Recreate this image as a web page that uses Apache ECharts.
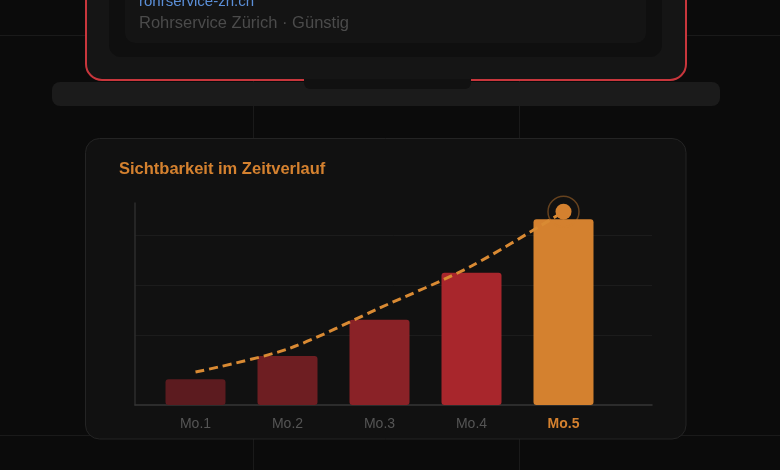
<!DOCTYPE html>
<html>
<head>
<meta charset="utf-8">
<script src="https://cdn.jsdelivr.net/npm/echarts@6/dist/echarts.min.js"></script>
<style>
  html, body { margin: 0; padding: 0; background: #0b0b0b; }
  #chart { width: 780px; height: 470px; }
</style>
</head>
<body>
<div id="chart"></div>
<script>
// values (0-100 visibility scale)
const categories = ['Mo.1', 'Mo.2', 'Mo.3', 'Mo.4', 'Mo.5'];
const visibility = [12.7, 24.3, 42.2, 65.5, 92];
const trend = [16.3, 27.7, 48, 68.8, 95.7];

const barColors = ['#5c1b1f', '#6e1e22', '#8a2227', '#a8262c', '#d4812f'];
const orange = '#d4812f';
const font = "'Liberation Sans', Arial, Helvetica, sans-serif";
const last = categories.length - 1;

const chart = echarts.init(document.getElementById('chart'), null, { renderer: 'canvas' });

// laptop mockup + card background, drawn behind the chart
const decor = [
  // background grid
  { type: 'line', shape: { x1: 0, y1: 35.5, x2: 780, y2: 35.5 }, style: { stroke: '#1a1a1a', lineWidth: 1 } },
  { type: 'line', shape: { x1: 0, y1: 435.5, x2: 780, y2: 435.5 }, style: { stroke: '#1a1a1a', lineWidth: 1 } },
  { type: 'line', shape: { x1: 253.5, y1: 0, x2: 253.5, y2: 470 }, style: { stroke: '#1a1a1a', lineWidth: 1 } },
  { type: 'line', shape: { x1: 519.5, y1: 0, x2: 519.5, y2: 470 }, style: { stroke: '#1a1a1a', lineWidth: 1 } },
  // laptop
  { type: 'rect', shape: { x: 52, y: 82, width: 668, height: 24, r: 8 }, style: { fill: '#1b1b1b' } },
  { type: 'rect', shape: { x: 86, y: -30, width: 600, height: 110, r: 16 }, style: { fill: '#151515', stroke: '#c8363c', lineWidth: 2 } },
  { type: 'rect', shape: { x: 304, y: 79, width: 167, height: 10, r: [0, 0, 6, 6] }, style: { fill: '#111111' } },
  { type: 'rect', shape: { x: 109, y: -30, width: 553, height: 87, r: 12 }, style: { fill: '#0f0f0f' } },
  { type: 'rect', shape: { x: 125, y: -30, width: 521, height: 73, r: 10 }, style: { fill: '#141414' } },
  { type: 'text', x: 139, y: 2, style: { text: 'rohrservice-zh.ch', fill: '#5b8fd8', font: '15px ' + font, verticalAlign: 'middle' } },
  { type: 'text', x: 139, y: 23.7, style: { text: 'Rohrservice Zürich · Günstig', fill: '#4b4b4b', font: '16.5px ' + font, verticalAlign: 'middle' } },
  // chart card
  { type: 'rect', shape: { x: 85.5, y: 138.5, width: 600.5, height: 300.5, r: 14 }, style: { fill: '#111111', stroke: '#242424', lineWidth: 1 } },
  { type: 'text', x: 119, y: 169.5, style: { text: 'Sichtbarkeit im Zeitverlauf', fill: orange, font: 'bold 16.5px ' + font, verticalAlign: 'middle' } }
].map(el => Object.assign({ z: -10, silent: true }, el));

const option = {
  backgroundColor: '#0b0b0b',
  animation: false,
  graphic: { elements: decor },
  grid: [
    // frame with axis lines
    { left: 135, right: 128, top: 203, bottom: 65 },
    // faint horizontal guides
    { left: 135, right: 128, top: 235, bottom: 135 },
    // bars
    { left: 149.5, width: 460, top: 203, bottom: 65 }
  ],
  xAxis: [
    {
      gridIndex: 0, type: 'value', min: 0, max: 1,
      axisLine: { show: true, lineStyle: { color: '#363636', width: 1.5 } },
      axisTick: { show: false }, axisLabel: { show: false }, splitLine: { show: false }
    },
    { gridIndex: 1, type: 'value', min: 0, max: 1, show: false },
    {
      gridIndex: 2, type: 'category', data: categories.map((c, i) => i === last
        ? { value: c, textStyle: { color: orange, fontWeight: 'bold' } }
        : c),
      boundaryGap: true,
      axisLine: { show: false }, axisTick: { show: false },
      axisLabel: { color: '#555555', fontSize: 14, fontFamily: font, margin: 12, interval: 0 }
    }
  ],
  yAxis: [
    {
      gridIndex: 0, type: 'value', min: 0, max: 1,
      axisLine: { show: true, lineStyle: { color: '#2c2c2c', width: 1.5 } },
      axisTick: { show: false }, axisLabel: { show: false }, splitLine: { show: false }
    },
    {
      gridIndex: 1, type: 'value', min: 0, max: 2, interval: 1,
      axisLine: { show: false }, axisTick: { show: false }, axisLabel: { show: false },
      splitLine: { show: true, lineStyle: { color: '#1c1c1c', width: 1 } }
    },
    { gridIndex: 2, type: 'value', min: 0, max: 100, show: false }
  ],
  series: [
    {
      type: 'bar', xAxisIndex: 2, yAxisIndex: 2, z: 2,
      barWidth: 60,
      data: visibility.map((v, i) => ({ value: v, itemStyle: { color: barColors[i] } })),
      itemStyle: { borderRadius: 3 }
    },
    {
      type: 'line', xAxisIndex: 2, yAxisIndex: 2, z: 4,
      smooth: 0.3,
      symbol: 'none',
      lineStyle: { color: '#d98a33', width: 3, type: [9, 5] },
      data: trend.map((v, i) => i === last
        ? { value: v, symbol: 'circle', symbolSize: 16, itemStyle: { color: orange } }
        : v)
    },
    {
      type: 'scatter', xAxisIndex: 2, yAxisIndex: 2, z: 3,
      symbolSize: 31,
      itemStyle: { color: 'rgba(0,0,0,0)', borderColor: 'rgba(212,129,47,0.55)', borderWidth: 1.5 },
      data: [[categories[last], trend[last]]]
    }
  ]
};

chart.setOption(option);
</script>
</body>
</html>
